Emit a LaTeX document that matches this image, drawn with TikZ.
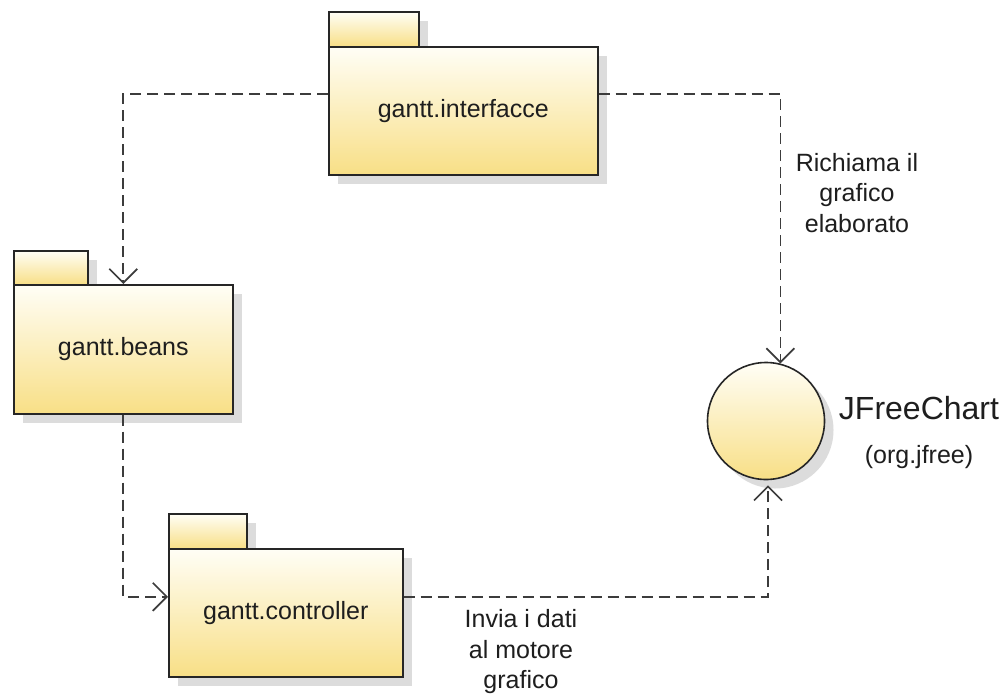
\documentclass[tikz,border=0pt]{standalone}
\usepackage{fontspec}
\setmainfont{Liberation Sans}
\usetikzlibrary{arrows.meta,shadows}
\definecolor{pkgtop}{HTML}{FFFEF6}
\definecolor{pkgbot}{HTML}{F8DF86}
\definecolor{linec}{HTML}{3C3C3C}
\definecolor{shadowc}{HTML}{DCDCDC}
\definecolor{txtc}{HTML}{1E1E1E}
\tikzset{
  pkgshadow/.style={drop shadow={shadow xshift=9pt, shadow yshift=-9pt, fill=shadowc, opacity=1}},
  pkgbody/.style={rectangle, draw=black!85, line width=1.6pt, top color=pkgtop, bottom color=pkgbot,
    inner sep=0pt, anchor=north west, pkgshadow, text=txtc, font=\fontsize{25}{30}\selectfont},
  pkgtab/.style={rectangle, draw=black!85, line width=1.6pt, top color=pkgtop, bottom color=pkgbot,
    inner sep=0pt, anchor=north west, pkgshadow},
  dep/.style={draw=linec, line width=1.7pt, dash pattern=on 11pt off 6pt,
    -{Straight Barb[length=14pt,width=28pt,line width=1.7pt]}},
  lbl/.style={align=center, text=txtc, font=\fontsize{25}{30.5}\selectfont, inner sep=0pt}
}
\begin{document}
\begin{tikzpicture}[x=1pt,y=-1pt]
\useasboundingbox (0,0) rectangle (1006,699);
\fill[white] (0,0) rectangle (1006,699);
% gantt.interfacce
\node[pkgtab, minimum width=90pt, minimum height=35pt] (toptab) at (328,11) {};
\node[pkgbody, minimum width=269pt, minimum height=128pt] (topb) at (328,46) {gantt.interfacce};
% gantt.beans
\node[pkgtab, minimum width=74pt, minimum height=34pt] (beanstab) at (13,250) {};
\node[pkgbody, minimum width=219pt, minimum height=129pt] (beansb) at (13,284) {gantt.beans};
% gantt.controller
\node[pkgtab, minimum width=78pt, minimum height=35pt] (ctrltab) at (168,513) {};
\node[pkgbody, minimum width=234pt, minimum height=128pt] (ctrlb) at (168,548) {gantt.controller};
% JFreeChart
\node[circle, draw=black!85, line width=1.6pt, top color=pkgtop, bottom color=pkgbot,
  minimum size=117pt, inner sep=0pt, pkgshadow] (jf) at (766,421) {};
\node[text=txtc, font=\fontsize{32}{36}\selectfont, inner sep=0pt] (jfname) at (919,408) {JFreeChart};
\node[text=txtc, font=\fontsize{25}{30}\selectfont, inner sep=0pt] (jfpkg) at (919,457) {(org.jfree)};
% dependencies
\draw[dep] ([yshift=17pt]topb.west) -| (beansb.north);
\draw[dep] ([yshift=17pt]topb.east) -| (jf.76);
\draw[dep] (beansb.south) |- ([yshift=16pt]ctrlb.west);
\draw[dep] ([yshift=16pt]ctrlb.east) -| ([xshift=2pt,yshift=-5pt]jf.south);
% labels
\node[lbl] (lblr) at (857,193) {Richiama il\\grafico\\elaborato};
\node[lbl] (lbli) at (521,652) {Invia i dati\\al motore\\grafico};
\end{tikzpicture}
\end{document}
